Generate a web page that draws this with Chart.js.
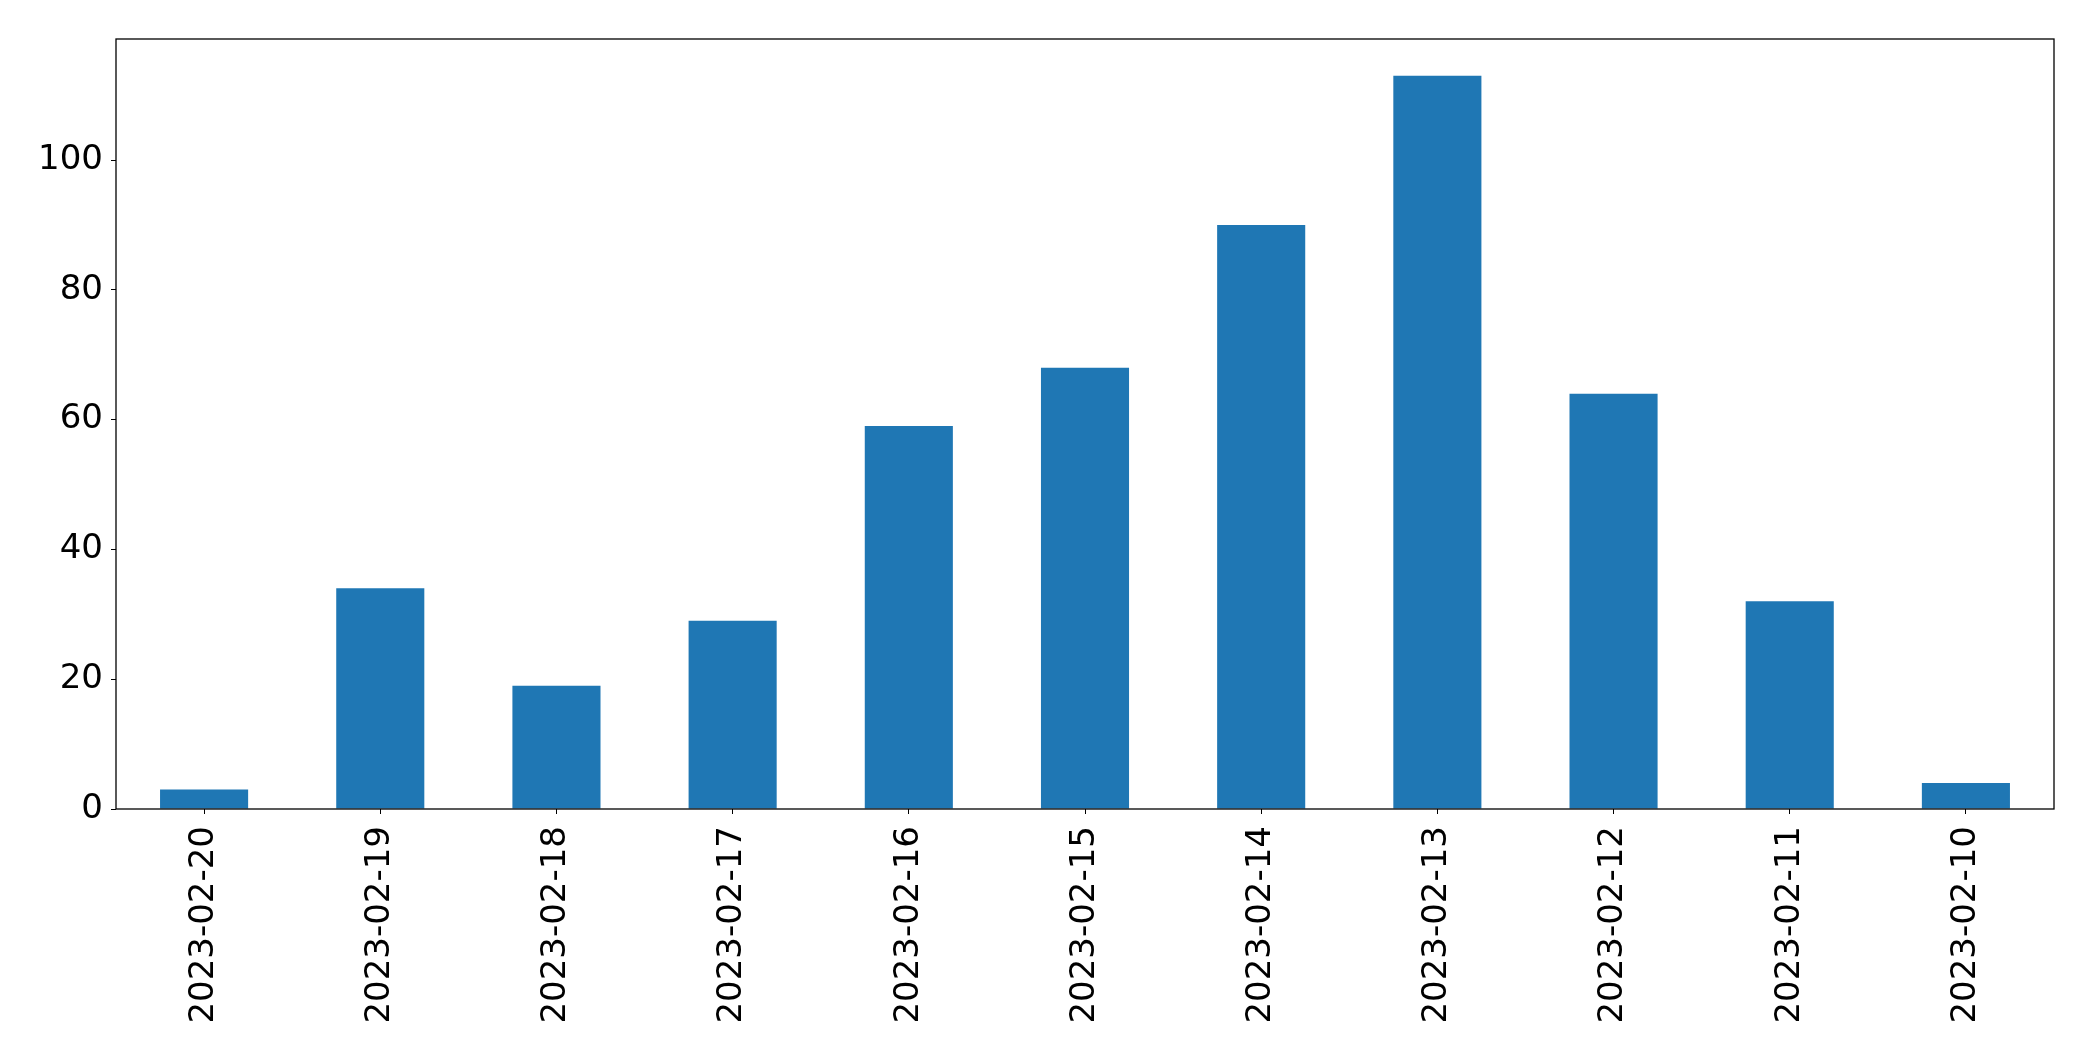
<!DOCTYPE html>
<html>
<head>
<title></title>
<script src="https://cdn.jsdelivr.net/npm/chart.js@4.4.0/dist/chart.umd.min.js"></script>
<style>
  html, body { margin: 0; padding: 0; background: #fff; }
  .chart-wrapper { position: relative; width: 2093px; height: 1061px; }
</style>
</head>
<body>
<div class="chart-wrapper">
  <canvas id="myChart"></canvas>
</div>
<script>
  const dates = ["2023-02-20", "2023-02-19", "2023-02-18", "2023-02-17", "2023-02-16", "2023-02-15",
                 "2023-02-14", "2023-02-13", "2023-02-12", "2023-02-11", "2023-02-10"];
  const counts = [3, 34, 19, 29, 59, 68, 90, 113, 64, 32, 4];
  const yTicks = [0, 20, 40, 60, 80, 100];

  // box round the plot area, like a matplotlib axes frame
  const frame = {
    id: "frame",
    afterDraw(chart) {
      const a = chart.chartArea;
      const c = chart.ctx;
      c.save();
      c.strokeStyle = "#000";
      c.lineWidth = 1.3;
      c.strokeRect(a.left, a.top, a.right - a.left, a.bottom - a.top);
      c.restore();
    }
  };

  const ctx = document.getElementById("myChart");
  const font = { family: "DejaVu Sans", size: 34 };

  new Chart(ctx, {
    type: "bar",
    data: {
      labels: dates,
      datasets: [{
        data: counts,
        backgroundColor: "#1f77b4",
        barPercentage: 0.5,
        categoryPercentage: 1.0
      }]
    },
    options: {
      responsive: true,
      maintainAspectRatio: false,
      animation: false,
      layout: { padding: { top: 39, right: 39, left: 0, bottom: 0 } },
      plugins: { legend: { display: false }, tooltip: { enabled: false } },
      scales: {
        x: {
          offset: true,
          grid: { offset: false, drawOnChartArea: false, drawTicks: true, tickLength: 5, color: "#000" },
          border: { display: false },
          ticks: { color: "#000", font: font, minRotation: 90, maxRotation: 90, padding: 12, autoSkip: false },
          afterFit(scale) { scale.height = 252; }
        },
        y: {
          min: 0,
          max: Math.max(...counts) * 1.05,
          grid: { drawOnChartArea: false, drawTicks: true, tickLength: 5, color: "#000" },
          border: { display: false },
          ticks: { color: "#000", font: font, stepSize: 20, includeBounds: false, padding: 8 },
          afterBuildTicks(scale) { scale.ticks = yTicks.map(v => ({ value: v })); },
          afterFit(scale) { scale.width = 116; }
        }
      }
    },
    plugins: [frame]
  });
</script>
</body>
</html>
